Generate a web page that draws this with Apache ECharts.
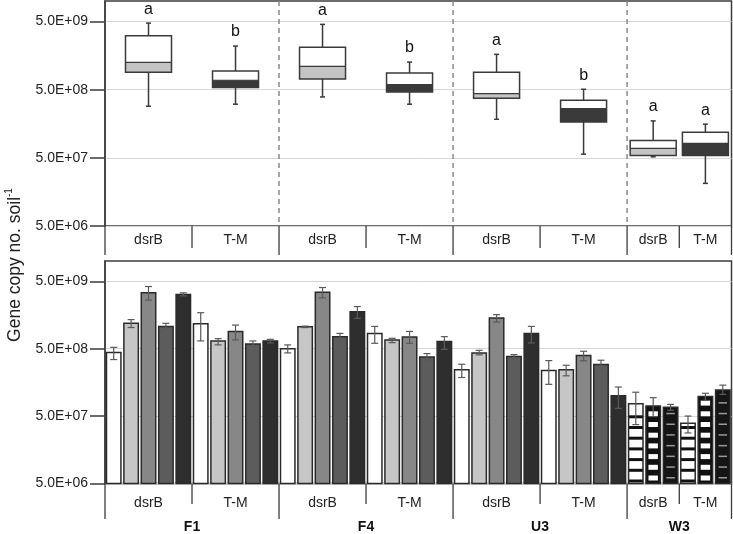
<!DOCTYPE html>
<html><head><meta charset="utf-8">
<script src="https://cdn.jsdelivr.net/npm/echarts@6/dist/echarts.min.js"></script>
<style>html,body{margin:0;padding:0;background:#fff}#c{width:733px;height:534px}</style>
</head><body><div id="c"></div>
<script>
// ---------- data ----------
const sites = ['F1', 'F4', 'U3', 'W3'];
const genes = ['dsrB', 'T-M'];
const yTickValues = [5e6, 5e7, 5e8, 5e9];
const yTickLabels = ['5.0E+06', '5.0E+07', '5.0E+08', '5.0E+09'];
const axisMin = 5e6, axisMax = 1e10;
const yName = 'Gene copy no. soil';
const yNameSup = '-1';
// bars per site x gene subgroup (F1 dsrB, F1 T-M, F4 dsrB, ...)
const barsPerGroup = [5, 5, 5, 5, 5, 5, 3, 3];

// top panel: box plots, one per site x gene
const boxLow    = [2.86e8, 3.06e8, 3.91e8, 3.06e8, 1.84e8, 5.66e7, 5.18e7, 2.11e7];
const boxQ1     = [9.0e8, 5.37e8, 7.18e8, 4.62e8, 3.74e8, 1.68e8, 5.42e7, 5.42e7];
const boxMedian = [1.26e9, 6.87e8, 1.10e9, 5.94e8, 4.38e8, 2.64e8, 6.87e7, 8.13e7];
const boxQ3     = [3.10e9, 9.4e8, 2.09e9, 8.79e8, 9.0e8, 3.50e8, 9.0e7, 1.19e8];
const boxHigh   = [4.74e9, 2.18e9, 4.54e9, 1.27e9, 1.65e9, 5.07e8, 1.74e8, 1.56e8];
const boxLetters = ['a', 'b', 'a', 'b', 'a', 'b', 'a', 'a'];

// bottom panel: bars with error bars
const barMean = [
  4.38e8, 1.19e9, 3.37e9, 1.07e9, 3.18e9,
  1.17e9, 6.52e8, 9.03e8, 5.89e8, 6.52e8,
  5.01e8, 1.06e9, 3.45e9, 7.55e8, 1.77e9,
  8.43e8, 6.74e8, 7.46e8, 3.78e8, 6.37e8,
  2.43e8, 4.33e8, 1.43e9, 3.82e8, 8.43e8,
  2.38e8, 2.43e8, 3.95e8, 2.91e8, 1.00e8,
  7.65e7, 7.05e7, 6.74e7,
  3.91e7, 9.8e7, 1.22e8
];
const barLow = [
  3.45e8, 1.03e9, 2.63e9, 9.68e8, 3.04e9,
  6.52e8, 5.69e8, 6.74e8, 5.56e8, 6.09e8,
  4.33e8, 1.03e9, 2.84e9, 6.59e8, 1.41e9,
  6.01e8, 6.15e8, 6.01e8, 3.41e8, 4.90e8,
  1.87e8, 4.05e8, 1.24e9, 3.60e8, 6.09e8,
  1.48e8, 1.98e8, 3.30e8, 2.45e8, 6.52e7,
  3.74e7, 4.92e7, 6.09e7,
  2.81e7, 8.55e7, 1.05e8
];
const barHigh = [
  5.24e8, 1.35e9, 4.18e9, 1.19e9, 3.37e9,
  1.71e9, 7.05e8, 1.12e9, 6.52e8, 6.88e8,
  5.69e8, 1.08e9, 4.04e9, 8.43e8, 2.11e9,
  1.07e9, 7.13e8, 9.03e8, 4.23e8, 7.55e8,
  2.94e8, 4.73e8, 1.60e9, 4.09e8, 1.07e9,
  3.33e8, 2.84e8, 4.58e8, 3.37e8, 1.35e8,
  1.13e8, 9.38e7, 7.46e7,
  5.01e7, 1.09e8, 1.44e8
];

// ---------- styles ----------
const FONT = '"Liberation Sans", Arial, Helvetica, sans-serif';
const shades = ['#ffffff', '#c6c6c6', '#878787', '#5c5c5c', '#2e2e2e'];
const boxShades = ['#c4c4c4', '#3a3a3a'];
const frameColor = '#3c3c3c';
const textColor = '#222222';

// ---------- helpers ----------
const t = v => Math.log10(v / axisMin);
const tMax = t(axisMax);
const groupStart = [];
let acc = 0;
barsPerGroup.forEach(n => { groupStart.push(acc); acc += n; });
const nSlots = acc;

const barData = [];
barsPerGroup.forEach((n, g) => {
  for (let k = 0; k < n; k++) {
    const i = groupStart[g] + k;
    barData.push([i, t(barMean[i]), t(barLow[i]), t(barHigh[i]), g, k]);
  }
});
const boxData = boxLow.map((_, g) => [
  groupStart[g] + barsPerGroup[g] / 2,
  t(boxLow[g]), t(boxQ1[g]), t(boxMedian[g]), t(boxQ3[g]), t(boxHigh[g]), g
]);
const tableData = barsPerGroup.map((n, g) => [groupStart[g], n, g]);

function renderBar(params, api) {
  const i = api.value(0), g = api.value(4), k = api.value(5);
  const xc = i + 0.5;
  const top = api.coord([xc, api.value(1)]);
  const base = api.coord([xc, 0]);
  const lo = api.coord([xc, api.value(2)]);
  const hi = api.coord([xc, api.value(3)]);
  const w = api.size([1, 0])[0] * 0.83;
  const x = top[0] - w / 2;
  const h = base[1] - top[1];
  const children = [];
  const patterned = sites[Math.floor(g / 2)] === 'W3';
  if (!patterned) {
    children.push({type: 'rect', shape: {x, y: top[1], width: w, height: h}, style: {fill: shades[k]}});
  } else {
    const sp = 10.7;
    if (k === 0) {
      children.push({type: 'rect', shape: {x, y: top[1], width: w, height: h}, style: {fill: '#ffffff'}});
      for (let yb = base[1] - 1; yb - 3 > top[1] + 2; yb -= sp) {
        children.push({type: 'rect', shape: {x, y: yb - 3, width: w, height: 3}, style: {fill: '#111'}});
      }
    } else if (k === 1) {
      children.push({type: 'rect', shape: {x, y: top[1], width: w, height: h}, style: {fill: '#111'}});
      for (let yb = base[1] - 3; yb - 5 > top[1] + 2; yb -= sp) {
        children.push({type: 'rect', shape: {x: x + 2.5, y: yb - 5, width: w - 5, height: 5}, style: {fill: '#ffffff'}});
      }
    } else {
      children.push({type: 'rect', shape: {x, y: top[1], width: w, height: h}, style: {fill: '#151515'}});
      for (let yb = base[1] - 5; yb - 1.5 > top[1] + 2; yb -= sp) {
        children.push({type: 'rect', shape: {x: x + 3, y: yb - 1.5, width: w - 6, height: 1.5}, style: {fill: '#9a9a9a'}});
      }
    }
  }
  children.push({type: 'rect', shape: {x, y: top[1], width: w, height: h}, style: {fill: 'none', stroke: '#2a2a2a', lineWidth: 1.5}});
  const cap = 3.5, ec = '#5a5a5a';
  children.push({type: 'line', shape: {x1: top[0], y1: lo[1], x2: top[0], y2: hi[1]}, style: {stroke: ec, lineWidth: 1.2}});
  children.push({type: 'line', shape: {x1: top[0] - cap, y1: lo[1], x2: top[0] + cap, y2: lo[1]}, style: {stroke: ec, lineWidth: 1.2}});
  children.push({type: 'line', shape: {x1: top[0] - cap, y1: hi[1], x2: top[0] + cap, y2: hi[1]}, style: {stroke: ec, lineWidth: 1.2}});
  return {type: 'group', children};
}

function renderBox(params, api) {
  const cx = api.value(0), g = api.value(6);
  const pLow = api.coord([cx, api.value(1)]);
  const pQ1 = api.coord([cx, api.value(2)]);
  const pMed = api.coord([cx, api.value(3)]);
  const pQ3 = api.coord([cx, api.value(4)]);
  const pHigh = api.coord([cx, api.value(5)]);
  const w = 46, x = pQ1[0] - w / 2, cap = 2.5, sc = '#3a3a3a';
  const gene = g % 2;
  return {type: 'group', children: [
    {type: 'line', shape: {x1: pLow[0], y1: pLow[1], x2: pLow[0], y2: pQ1[1]}, style: {stroke: sc, lineWidth: 1.5}},
    {type: 'line', shape: {x1: pHigh[0], y1: pHigh[1], x2: pHigh[0], y2: pQ3[1]}, style: {stroke: sc, lineWidth: 1.5}},
    {type: 'line', shape: {x1: pLow[0] - cap, y1: pLow[1], x2: pLow[0] + cap, y2: pLow[1]}, style: {stroke: sc, lineWidth: 1.5}},
    {type: 'line', shape: {x1: pHigh[0] - cap, y1: pHigh[1], x2: pHigh[0] + cap, y2: pHigh[1]}, style: {stroke: sc, lineWidth: 1.5}},
    {type: 'rect', shape: {x, y: pQ3[1], width: w, height: pMed[1] - pQ3[1]}, style: {fill: '#ffffff'}},
    {type: 'rect', shape: {x, y: pMed[1], width: w, height: pQ1[1] - pMed[1]}, style: {fill: boxShades[gene]}},
    {type: 'line', shape: {x1: x, y1: pMed[1], x2: x + w, y2: pMed[1]}, style: {stroke: sc, lineWidth: 1.2}},
    {type: 'rect', shape: {x, y: pQ3[1], width: w, height: pQ1[1] - pQ3[1]}, style: {fill: 'none', stroke: sc, lineWidth: 1.5}},
    {type: 'text', style: {text: boxLetters[g], x: pHigh[0], y: pHigh[1] - 14, align: 'center', verticalAlign: 'middle',
      font: '16px ' + FONT, fill: '#111'}}
  ]};
}

function makeTableRender(cfg) {
  return function (params, api) {
    const start = api.value(0), n = api.value(1), g = api.value(2);
    const end = start + n;
    const a0 = api.coord([start, 0]);
    const a1 = api.coord([end, 0]);
    const children = [];
    const siteEnd = (g % 2 === 1);
    const lineStyle = {stroke: frameColor, lineWidth: 1.3};
    if (start === 0) {
      children.push({type: 'line', shape: {x1: a0[0], y1: a0[1], x2: a0[0], y2: a0[1] + cfg.siteLen}, style: lineStyle});
    }
    children.push({type: 'line', shape: {x1: a1[0], y1: a1[1], x2: a1[0], y2: a1[1] + (siteEnd ? cfg.siteLen : cfg.geneLen)}, style: lineStyle});
    children.push({type: 'text', style: {text: genes[g % 2], x: (a0[0] + a1[0]) / 2, y: a0[1] + cfg.geneLabelDy,
      align: 'center', verticalAlign: 'middle', font: '14px ' + FONT, fill: textColor}});
    if (cfg.showSites && siteEnd) {
      const s0 = api.coord([groupStart[g - 1], 0]);
      children.push({type: 'text', style: {text: sites[Math.floor(g / 2)], x: (s0[0] + a1[0]) / 2, y: a0[1] + cfg.siteLabelDy,
        align: 'center', verticalAlign: 'middle', font: 'bold 14px ' + FONT, fill: '#111'}});
    }
    if (cfg.dashed && siteEnd && end < nSlots) {
      const topP = api.coord([end, tMax]);
      children.push({type: 'line', shape: {x1: a1[0], y1: topP[1], x2: a1[0], y2: a1[1]},
        style: {stroke: '#8a8a8a', lineWidth: 1.5, lineDash: [5, 4]}});
    }
    return {type: 'group', children};
  };
}

function yAxisCfg(gridIndex) {
  return {
    type: 'value', gridIndex, min: 0, max: tMax, interval: 1,
    axisLine: {show: true, lineStyle: {color: frameColor, width: 1.5}},
    axisTick: {show: true, length: 15, customValues: yTickValues.map(t), lineStyle: {color: frameColor, width: 1.5}},
    axisLabel: {customValues: yTickValues.map(t), margin: 17, color: textColor, fontSize: 14, fontFamily: FONT,
      formatter: v => { const idx = yTickValues.findIndex(tv => Math.abs(t(tv) - v) < 1e-6); return idx >= 0 ? yTickLabels[idx] : ''; }},
    splitLine: {show: true, lineStyle: {color: '#d6d6d6', width: 1}}
  };
}
function xAxisCfg(gridIndex) {
  return {type: 'value', gridIndex, min: 0, max: nSlots, show: false, splitLine: {show: false}};
}

const chart = echarts.init(document.getElementById('c'), null, {renderer: 'canvas'});
chart.setOption({
  animation: false,
  backgroundColor: '#ffffff',
  grid: [
    {left: 105, top: 1, right: 1.5, height: 225, show: true, borderColor: frameColor, borderWidth: 1.5, backgroundColor: 'transparent'},
    {left: 105, top: 261, right: 1.5, height: 222.5, show: true, borderColor: frameColor, borderWidth: 1.5, backgroundColor: 'transparent'}
  ],
  xAxis: [xAxisCfg(0), xAxisCfg(1)],
  yAxis: [yAxisCfg(0), yAxisCfg(1)],
  graphic: [{
    type: 'text', x: 14, y: 265, rotation: Math.PI / 2,
    style: {
      text: '{m|' + yName + '}{s|' + yNameSup + '}', align: 'center', verticalAlign: 'middle',
      rich: {
        m: {fontSize: 17.5, fontFamily: FONT, fill: textColor, lineHeight: 20, verticalAlign: 'bottom'},
        s: {fontSize: 10, fontFamily: FONT, fill: textColor, lineHeight: 20, verticalAlign: 'top'}
      }
    }
  }],
  series: [
    {type: 'custom', name: 'table-top', xAxisIndex: 0, yAxisIndex: 0, clip: false, silent: true, z: 1,
      renderItem: makeTableRender({siteLen: 29, geneLen: 22, geneLabelDy: 14, siteLabelDy: 0, showSites: false, dashed: true}),
      data: tableData},
    {type: 'custom', name: 'boxes', xAxisIndex: 0, yAxisIndex: 0, clip: false, z: 3, renderItem: renderBox, data: boxData},
    {type: 'custom', name: 'table-bottom', xAxisIndex: 1, yAxisIndex: 1, clip: false, silent: true, z: 1,
      renderItem: makeTableRender({siteLen: 35.5, geneLen: 20.5, geneLabelDy: 19.5, siteLabelDy: 44, showSites: true, dashed: false}),
      data: tableData},
    {type: 'custom', name: 'bars', xAxisIndex: 1, yAxisIndex: 1, clip: false, z: 3, renderItem: renderBar, data: barData}
  ]
});
</script>
</body></html>
